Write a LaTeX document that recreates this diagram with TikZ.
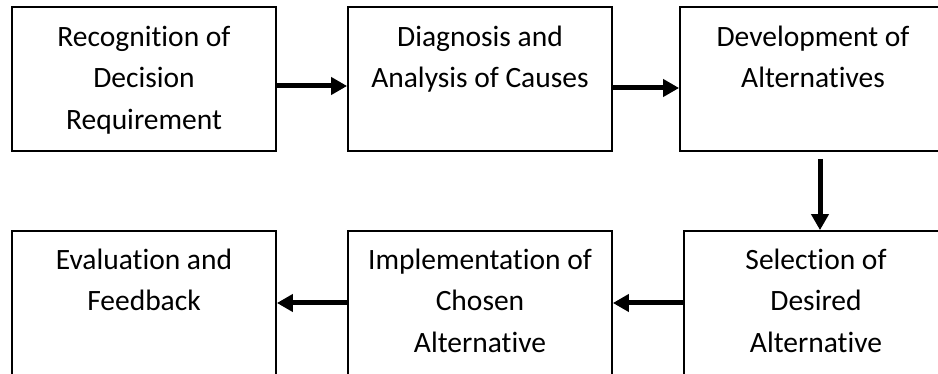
\documentclass[tikz,border=0pt]{standalone}
\usepackage{fontspec}
\setmainfont{Carlito}[Ligatures={NoCommon}]
\usetikzlibrary{arrows.meta,calc}
\begin{document}
\begin{tikzpicture}[x=1pt,y=-1pt,
  box/.style={draw=black,line width=1.8pt,minimum width=264pt,minimum height=144pt,inner sep=0pt},
  wbox/.style={box,minimum width=320pt},
  txt/.style={font=\fontsize{29.5}{41.5}\selectfont,align=center,inner sep=0pt,anchor=north},
  arr/.style={line width=5pt,-{Triangle[length=16pt,width=17pt]}}]
\useasboundingbox (0,0) rectangle (938,374);
\clip (0,0) rectangle (938,374);
\fill[white] (0,0) rectangle (938,374);
\node[box] (b1) at (144,79) {};
\node[box] (b2) at (480,79) {};
\node[wbox] (b3) at (840,79) {};
\node[box] (b4) at (144,303) {};
\node[box] (b5) at (480,303) {};
\node[wbox] (b6) at (844,303) {};
\node[txt] (t1) at ([yshift=-11pt]b1.north) {\strut Recognition of\\Decision\\Requirement};
\node[txt] (t2) at ([yshift=-11pt]b2.north) {\strut Diagnosis and\\Analysis of Causes};
\node[txt] (t3) at ([xshift=-27pt,yshift=-11pt]b3.north) {\strut Development of\\Alternatives};
\node[txt] (t4) at ([yshift=-10pt]b4.north) {\strut Evaluation and\\Feedback};
\node[txt] (t5) at ([yshift=-10pt]b5.north) {\strut Implementation of\\Chosen\\Alternative};
\node[txt] (t6) at ([xshift=-28pt,yshift=-10pt]b6.north) {\strut Selection of\\Desired\\Alternative};
\coordinate (d1) at (820,159);
\draw[arr] ([yshift=-7pt]b1.east) -- ([yshift=-7pt]b2.west);
\draw[arr] ([yshift=-9pt]b2.east) -- ([yshift=-9pt]b3.west);
\draw[arr] (d1) -- (d1 |- b6.north);
\draw[arr] (b6.west) -- (b5.east);
\draw[arr] (b5.west) -- (b4.east);
\end{tikzpicture}
\end{document}
